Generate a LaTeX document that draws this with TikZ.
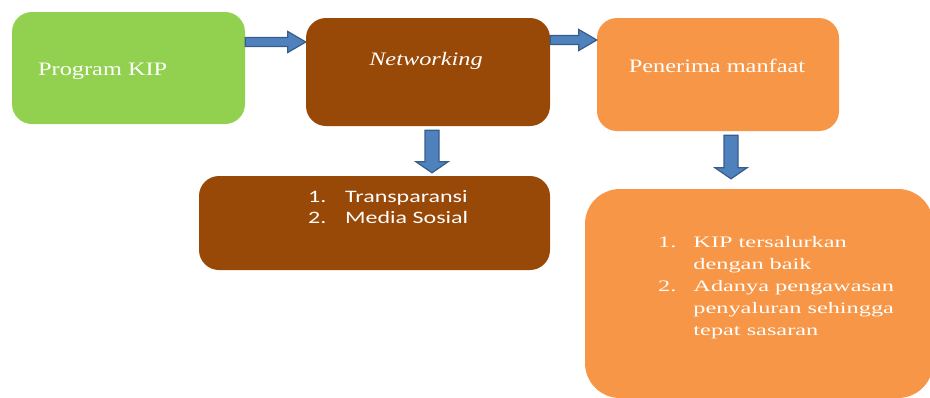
\documentclass[tikz,border=0pt]{standalone}
\usepackage{fontspec}
\setmainfont{Liberation Serif}
\newfontfamily\headfont[FakeStretch=1.28]{Liberation Serif}
\newfontfamily\itemfont[FakeStretch=1.52]{Liberation Serif}
\newfontfamily\calfont[FakeStretch=1.37]{Carlito}
\usetikzlibrary{calc}

\definecolor{kipgreen}{HTML}{92D050}
\definecolor{netbrown}{HTML}{984807}
\definecolor{benorange}{HTML}{F79646}
\definecolor{arrowfill}{HTML}{4F81BD}
\definecolor{arrowline}{HTML}{385D8A}

\tikzset{
  box/.style={rounded corners=20pt, inner sep=0pt},
  toptext/.style={text=white, inner sep=0pt, font=\headfont\fontsize{19}{22}\selectfont},
  blockarrow/.style={fill=arrowfill, draw=arrowline, line width=1.2pt, line join=miter},
  rarrow/.style={blockarrow, to path={let \p1=(\tikztostart), \p2=(\tikztotarget) in
    (\x1,\y1+4.5pt) -- (\x2-18pt,\y1+4.5pt) -- (\x2-18pt,\y1+10.5pt) -- (\x2,\y1)
    -- (\x2-18pt,\y1-10.5pt) -- (\x2-18pt,\y1-4.5pt) -- (\x1,\y1-4.5pt) -- cycle}},
  darrow/.style={blockarrow, to path={let \p1=(\tikztostart), \p2=(\tikztotarget) in
    (\x1-7pt,\y1) -- (\x1-7pt,\y2+11pt) -- (\x1-16pt,\y2+11pt) -- (\x1,\y2)
    -- (\x1+16pt,\y2+11pt) -- (\x1+7pt,\y2+11pt) -- (\x1+7pt,\y1) -- cycle}}
}

\begin{document}
\begin{tikzpicture}[x=1pt, y=-1pt]
    \useasboundingbox (0,0) rectangle (930,397);

    % The three boxes of the top row
    \node[box, fill=kipgreen, minimum width=233pt, minimum height=112pt] (prog) at (128.5,68) {};
    \node[box, fill=netbrown, minimum width=244pt, minimum height=108pt] (net) at (428,72) {};
    \node[box, fill=benorange, minimum width=242pt, minimum height=113pt] (pen) at (718,74.5) {};

    % The two boxes below
    \node[box, fill=netbrown, minimum width=351pt, minimum height=94pt] (trans) at (374.5,223) {};
    \node[box, rounded corners=35pt, fill=benorange, minimum width=348pt, minimum height=209pt] (hasil) at (759,293.5) {};

    % Texts of the top row
    \node[toptext, anchor=base west] (progtext) at (38,75) {Program KIP};
    \node[toptext, anchor=base] (nettext) at (426,65) {\itshape Networking};
    \node[toptext, anchor=base] (pentext) at (717,72) {Penerima manfaat};

    % The two lists
    \node[anchor=base west, inner sep=0pt, text=white, font=\calfont\fontsize{17.5}{21}\selectfont] (transtext) at (308,202)
        {\begin{tabular}[t]{@{}l@{\hspace{18.8pt}}l@{}}1. & Transparansi\\ 2. & Media Sosial\end{tabular}};
    \node[anchor=base west, inner sep=0pt, text=white, font=\itemfont\fontsize{16}{22}\selectfont] (hasiltext) at (658,247)
        {\begin{tabular}[t]{@{}l@{\hspace{17pt}}l@{}}1. & KIP tersalurkan\\ & dengan baik\\ 2. & Adanya pengawasan\\ & penyaluran sehingga\\ & tepat sasaran\end{tabular}};

    % Block arrows between the boxes
    \draw[rarrow] ([yshift=26pt]prog.east) to (net.west);
    \draw[rarrow] ([yshift=32pt]net.east) to (pen.west);
    \draw[darrow] ([xshift=4pt,yshift=-4pt]net.south) to ([yshift=3pt]trans.north);
    \draw[darrow] ([xshift=13pt,yshift=-4pt]pen.south) to ([yshift=10pt]hasil.north);
\end{tikzpicture}
\end{document}
